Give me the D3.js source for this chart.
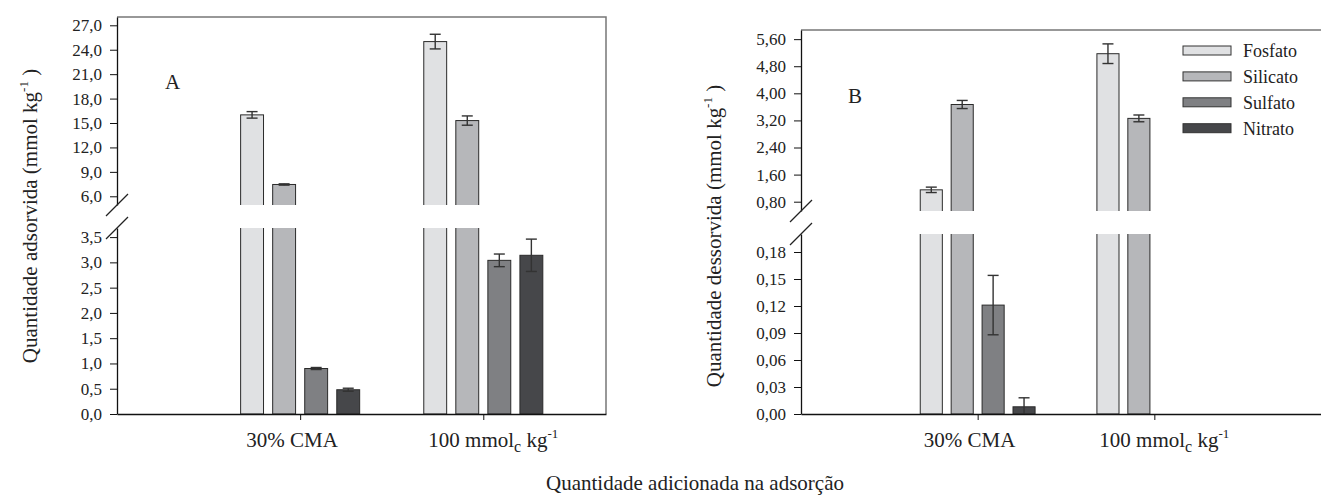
<!DOCTYPE html>
<html lang="pt">
<head>
<meta charset="UTF-8">
<title>Quantidade adsorvida e dessorvida</title>
<script src="https://d3js.org/d3.v7.min.js"></script>
<style>
  body { margin: 0; background: #fff; }
  svg text { font-family: "Liberation Serif", "Times New Roman", "DejaVu Serif", serif; }
  .tick text { font-size: 17px; fill: #222; }
  .tick line, .domain { stroke: #111; }
</style>
</head>
<body>
<svg id="chart" width="1321" height="497"></svg>
<script>
// data
const categories = ["30% CMA", "100 mmol"];
const series = ["Fosfato", "Silicato", "Sulfato", "Nitrato"];
const fills = ["#e0e1e3", "#b6b7ba", "#7f8083", "#46474a"];

// panel A - adsorvida (series x category)
const adsorvida    = [[16.0, 25.0], [7.45, 15.3], [0.90, 3.04], [0.48, 3.14]];
const adsorvidaErr = [[0.40, 0.90], [0.08, 0.57], [0.02, 0.125], [0.03, 0.32]];
// panel B - dessorvida
const dessorvida    = [[1.15, 5.17], [3.67, 3.26], [0.121, null], [0.008, null]];
const dessorvidaErr = [[0.08, 0.29], [0.12, 0.10], [0.033, null], [0.010, null]];

const ticksAUpper = [6, 9, 12, 15, 18, 21, 24, 27];
const ticksALower = [0, 0.5, 1, 1.5, 2, 2.5, 3, 3.5];
const ticksBUpper = [0.8, 1.6, 2.4, 3.2, 4.0, 4.8, 5.6];
const ticksBLower = [0, 0.03, 0.06, 0.09, 0.12, 0.15, 0.18];

const serif = '"Liberation Serif", "Times New Roman", "DejaVu Serif", serif';
const br = d3.formatLocale({decimal: ",", thousands: ".", grouping: [3], currency: ["R$", ""]});
const svg = d3.select("#chart");

function drawPanel(cfg) {
    const g = svg.append("g");
    const x = d3.scaleLinear().domain([0, cfg.xMax]).range([cfg.left, cfg.right]);
    const yU = d3.scaleLinear().domain(cfg.upperDomain).range([cfg.upperBottom, cfg.top]);
    const yL = d3.scaleLinear().domain(cfg.lowerDomain).range([cfg.bottom, cfg.lowerTop]);
    const unit = x(1) - x(0);
    const barW = 0.125 * unit;
    const off = i => (i - 1.5) * 0.175 * unit;

    // clip regions for the two segments
    const defs = g.append("defs");
    defs.append("clipPath").attr("id", cfg.id + "-up").append("rect")
        .attr("x", cfg.left).attr("y", cfg.top)
        .attr("width", cfg.right - cfg.left).attr("height", cfg.upperBottom - cfg.top);
    defs.append("clipPath").attr("id", cfg.id + "-lo").append("rect")
        .attr("x", cfg.left).attr("y", cfg.lowerTop)
        .attr("width", cfg.right - cfg.left).attr("height", cfg.bottom - cfg.lowerTop);

    // frame (top and right)
    g.append("path")
        .attr("d", `M${cfg.left},${cfg.top}H${cfg.right}V${cfg.bottom}`)
        .attr("fill", "none").attr("stroke", "#777").attr("stroke-width", 1.5);

    const up = g.append("g").attr("clip-path", `url(#${cfg.id}-up)`);
    const lo = g.append("g").attr("clip-path", `url(#${cfg.id}-lo)`);

    cfg.values.forEach((row, si) => {
        row.forEach((v, ci) => {
            if (v === null) return;
            const cx = x(ci + 1) + off(si);
            const err = cfg.errors[si][ci];
            // lower segment
            lo.append("rect")
                .attr("x", cx - barW / 2).attr("width", barW)
                .attr("y", yL(v)).attr("height", yL(0) - yL(v))
                .attr("fill", fills[si]).attr("stroke", "#2a2a2a").attr("stroke-width", 1);
            if (v > cfg.upperDomain[0]) {
                up.append("rect")
                    .attr("x", cx - barW / 2).attr("width", barW)
                    .attr("y", yU(v)).attr("height", cfg.upperBottom + 10 - yU(v))
                    .attr("fill", fills[si]).attr("stroke", "#2a2a2a").attr("stroke-width", 1);
            }
            const inUpper = v > cfg.lowerDomain[1];
            const y = inUpper ? yU : yL;
            const tgt = inUpper ? up : lo;
            const eb = tgt.append("g").attr("stroke", "#333").attr("stroke-width", 1.4);
            eb.append("line").attr("x1", cx).attr("x2", cx).attr("y1", y(v - err)).attr("y2", y(v + err));
            [v - err, v + err].forEach(e => {
                eb.append("line").attr("x1", cx - 5.5).attr("x2", cx + 5.5).attr("y1", y(e)).attr("y2", y(e));
            });
        });
    });

    // y axes
    const fmt = br.format(cfg.fmt);
    [[yU, cfg.ticksUpper], [yL, cfg.ticksLower]].forEach(([sc, tv]) => {
        g.append("g").attr("transform", `translate(${cfg.left},0)`)
            .call(d3.axisLeft(sc).tickValues(tv).tickFormat(fmt).tickSize(7).tickPadding(8).tickSizeOuter(0))
            .attr("font-family", serif).attr("font-size", 17)
            .call(a => a.select(".domain").attr("stroke-width", 1.3));
    });

    // break marks
    [cfg.upperBottom, cfg.lowerTop].forEach(yb => {
        g.append("line")
            .attr("x1", cfg.left - 11).attr("y1", yb + 11)
            .attr("x2", cfg.left + 11).attr("y2", yb - 11)
            .attr("stroke", "#222").attr("stroke-width", 1.2);
    });

    // x axis
    g.append("g").attr("transform", `translate(0,${cfg.bottom})`)
        .call(d3.axisBottom(x).tickValues([1, 2]).tickFormat("").tickSize(6).tickSizeOuter(0))
        .call(a => a.select(".domain").attr("stroke-width", 1.6));

    // category labels
    const lab1 = g.append("text").attr("x", x(1) - 8).attr("y", 447)
        .attr("text-anchor", "middle").attr("font-size", 21).attr("fill", "#222");
    lab1.text(categories[0]);
    const lab2 = g.append("text").attr("x", x(2) + 10).attr("y", 447)
        .attr("text-anchor", "middle").attr("font-size", 21).attr("fill", "#222");
    lab2.append("tspan").text(categories[1]);
    lab2.append("tspan").attr("font-size", 16).attr("dy", 5).text("c");
    lab2.append("tspan").attr("dy", -5).text(" kg");
    lab2.append("tspan").attr("font-size", 13).attr("dy", -9).text("-1");

    // y label
    const yl = g.append("text")
        .attr("transform", `translate(${cfg.yLabelX},${cfg.yLabelY}) rotate(-90)`)
        .attr("text-anchor", "middle").attr("font-size", 21).attr("fill", "#222");
    yl.append("tspan").text(cfg.yLabel + " (mmol kg");
    yl.append("tspan").attr("font-size", 13).attr("dy", -9).text("-1");
    yl.append("tspan").attr("dy", 9).text(" )");

    // panel letter
    g.append("text").attr("x", cfg.letterX).attr("y", cfg.letterY)
        .attr("font-size", 21).attr("fill", "#222").text(cfg.id);
}

drawPanel({
    id: "A", left: 117, right: 606, top: 17, bottom: 414,
    upperBottom: 205, lowerTop: 228, xMax: 2.67,
    upperDomain: [4.93, 28.02], lowerDomain: [0, 3.68],
    ticksUpper: ticksAUpper, ticksLower: ticksALower, fmt: ".1f",
    values: adsorvida, errors: adsorvidaErr,
    yLabel: "Quantidade adsorvida", yLabelX: 37, yLabelY: 216,
    letterX: 165, letterY: 89
});

drawPanel({
    id: "B", left: 801, right: 1331, top: 30, bottom: 414,
    upperBottom: 211, lowerTop: 234, xMax: 3,
    upperDomain: [0.525, 5.87], lowerDomain: [0, 0.2],
    ticksUpper: ticksBUpper, ticksLower: ticksBLower, fmt: ".2f",
    values: dessorvida, errors: dessorvidaErr,
    yLabel: "Quantidade dessorvida", yLabelX: 721, yLabelY: 236,
    letterX: 848, letterY: 103
});

// legend
const legend = svg.append("g").attr("transform", "translate(1183,46)");
series.forEach((s, i) => {
    const row = legend.append("g").attr("transform", `translate(0,${i * 25.9})`);
    row.append("rect").attr("width", 48).attr("height", 9)
        .attr("fill", fills[i]).attr("stroke", "#333").attr("stroke-width", 1);
    row.append("text").attr("x", 60).attr("y", 11)
        .attr("font-size", 18).attr("fill", "#222").text(s);
});

// common x title
svg.append("text").attr("x", 695).attr("y", 490)
    .attr("text-anchor", "middle").attr("font-size", 21).attr("fill", "#222")
    .text("Quantidade adicionada na adsorção");
</script>
</body>
</html>
